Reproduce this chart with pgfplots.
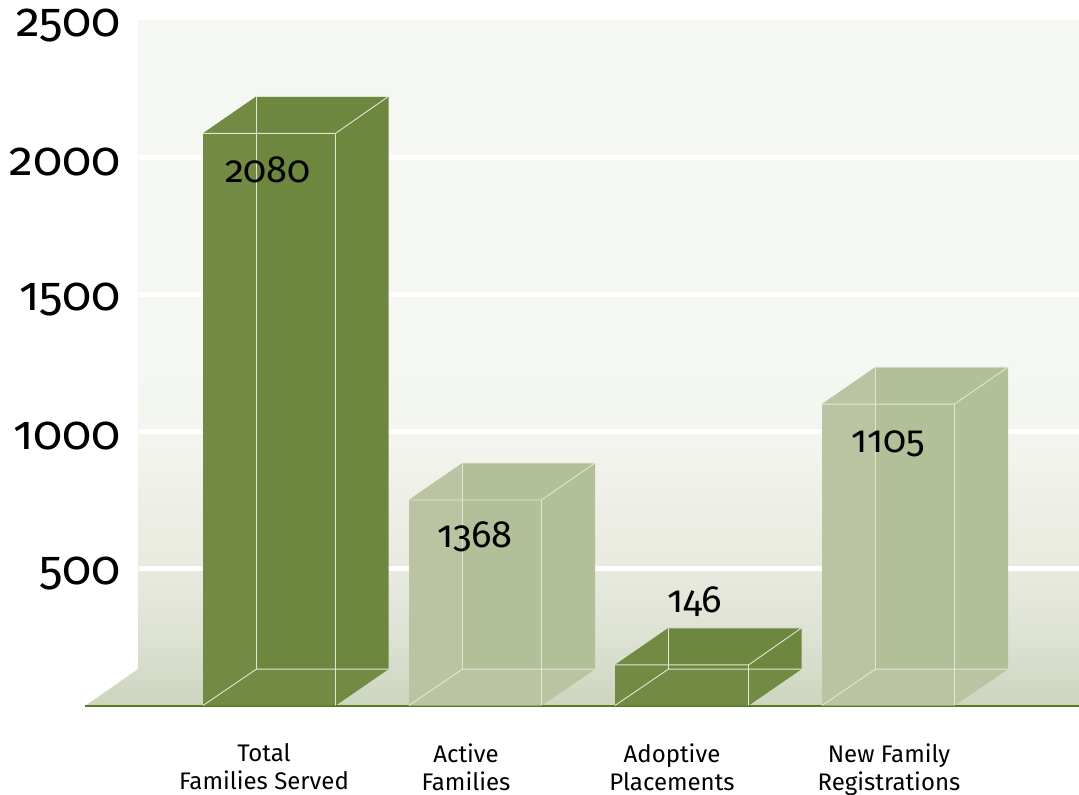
\documentclass[border=0pt]{standalone}
\usepackage{fontspec}
\setmainfont{Fira Sans}
\newfontfamily\numfont[Numbers=OldStyle]{Fira Sans}
\usepackage{pgfplots}
\pgfplotsset{compat=1.18}
\definecolor{darkbar}{HTML}{6E873F}
\definecolor{darkside}{HTML}{738A45}
\definecolor{lightbar}{HTML}{B1C098}
\definecolor{lightside}{HTML}{BAC4A3}
\definecolor{edgeline}{HTML}{E1E6D4}
\definecolor{floorline}{HTML}{5A7A1E}
\definecolor{wallA}{HTML}{CCD5BE}
\definecolor{wallB}{HTML}{DDE2D3}
\definecolor{wallC}{HTML}{E8EADF}
\definecolor{wallD}{HTML}{F3F5EF}
\definecolor{wallE}{HTML}{F5F7F2}
% 25bp = bottom of the path, 75bp = top of the path
\pgfdeclareverticalshading{wallfade}{100bp}{
  color(0bp)=(wallA);
  color(25bp)=(wallA);
  color(30bp)=(wallB);
  color(35bp)=(wallC);
  color(45bp)=(wallD);
  color(50bp)=(wallE);
  color(100bp)=(wallE)
}
\tikzset{
  barface/.style={draw=none, fill=#1},
  baredge/.style={draw=edgeline, line width=0.9pt},
  barval/.style={font=\fontsize{38}{38}\selectfont\numfont, inner sep=0pt},
}
\begin{document}
\begin{tikzpicture}
\useasboundingbox (0,0) rectangle (1079pt,795pt);
\begin{axis}[
  at={(138pt,89.5pt)}, anchor=south west,
  scale only axis,
  width=941pt, height=685pt,
  xmin=138, xmax=1079,
  ymin=0, ymax=2500,
  clip=false,
  axis line style={draw=none},
  tick style={draw=none},
  unbounded coords=jump,
  ytick={500,1000,1500,2000,2500},
  yticklabel style={
    /pgf/number format/1000 sep={},
    /pgf/number format/assume math mode=true,
    font=\fontsize{48}{48}\selectfont\numfont, inner sep=0pt, xshift=-17pt, yshift=-5pt},
  xtick={264,466,672,889},
  xticklabels={Total\\Families Served,Active\\Families,Adoptive\\Placements,New Family\\Registrations},
  xticklabel style={align=center, font=\fontsize{24}{28}\selectfont, inner sep=0pt, yshift=-38pt},
  every axis plot/.append style={mark=none},
]
% back wall and floor
\addplot[draw=none, shade, shading=wallfade] coordinates {(85,-2) (1079,-2) (1079,2500) (138,2500) (138,133) (85,-2)};
% gridlines
\addplot[white, line width=4.5pt] coordinates {(139,500) (1079,500) (1079,nan) (139,1000) (1079,1000) (1079,nan) (139,1500) (1079,1500) (1079,nan) (139,2000) (1079,2000)};
\addplot[floorline, line width=1.3pt] coordinates {(85,-2) (1079,-2)};

% Total Families Served
\addplot[barface=darkbar] coordinates {(203,0) (335.5,0) (388.5,133) (388.5,2223) (256.5,2223) (203,2088) (203,0)};
\addplot[barface=darkside] coordinates {(203,0) (256.5,133) (256.5,2223) (203,2088) (203,0)};
\addplot[barface=darkside] coordinates {(203,0) (335.5,0) (388.5,133) (256.5,133) (203,0)};
\addplot[baredge] coordinates {(203,2088) (335.5,2088) (388.5,2223) (388.5,nan) (335.5,2088) (335.5,0) (335.5,nan) (203,0) (256.5,133) (388.5,133) (388.5,nan) (256.5,133) (256.5,2223) (388.5,2223)};

% Active Families
\addplot[barface=lightbar] coordinates {(409,0) (541.5,0) (595,133) (595,885) (462.5,885) (409,750) (409,0)};
\addplot[barface=lightside] coordinates {(409,0) (462.5,133) (462.5,885) (409,750) (409,0)};
\addplot[barface=lightside] coordinates {(409,0) (541.5,0) (595,133) (462.5,133) (409,0)};
\addplot[baredge] coordinates {(409,750) (541.5,750) (595,885) (595,nan) (541.5,750) (541.5,0) (541.5,nan) (409,0) (462.5,133) (595,133) (595,nan) (462.5,133) (462.5,885) (595,885)};

% Adoptive Placements
\addplot[barface=darkbar] coordinates {(615,0) (748.5,0) (801.5,133) (801.5,283) (668.5,283) (615,148) (615,0)};
\addplot[barface=darkside] coordinates {(615,0) (668.5,133) (668.5,283) (615,148) (615,0)};
\addplot[barface=darkside] coordinates {(615,0) (748.5,0) (801.5,133) (668.5,133) (615,0)};
\addplot[baredge] coordinates {(615,148) (748.5,148) (801.5,283) (801.5,nan) (748.5,148) (748.5,0) (748.5,nan) (615,0) (668.5,133) (801.5,133) (801.5,nan) (668.5,133) (668.5,283) (801.5,283)};

% New Family Registrations
\addplot[barface=lightbar] coordinates {(822,0) (954.5,0) (1008,133) (1008,1235) (875.5,1235) (822,1100) (822,0)};
\addplot[barface=lightside] coordinates {(822,0) (875.5,133) (875.5,1235) (822,1100) (822,0)};
\addplot[barface=lightside] coordinates {(822,0) (954.5,0) (1008,133) (875.5,133) (822,0)};
\addplot[baredge] coordinates {(822,1100) (954.5,1100) (1008,1235) (1008,nan) (954.5,1100) (954.5,0) (954.5,nan) (822,0) (875.5,133) (1008,133) (1008,nan) (875.5,133) (875.5,1235) (1008,1235)};

\node[barval] at (axis cs:268,1955) {2080};
\node[barval] at (axis cs:475,615) {1368};
\node[barval] at (axis cs:695,380) {146};
\node[barval] at (axis cs:888,955) {1105};
\end{axis}
\end{tikzpicture}
\end{document}
